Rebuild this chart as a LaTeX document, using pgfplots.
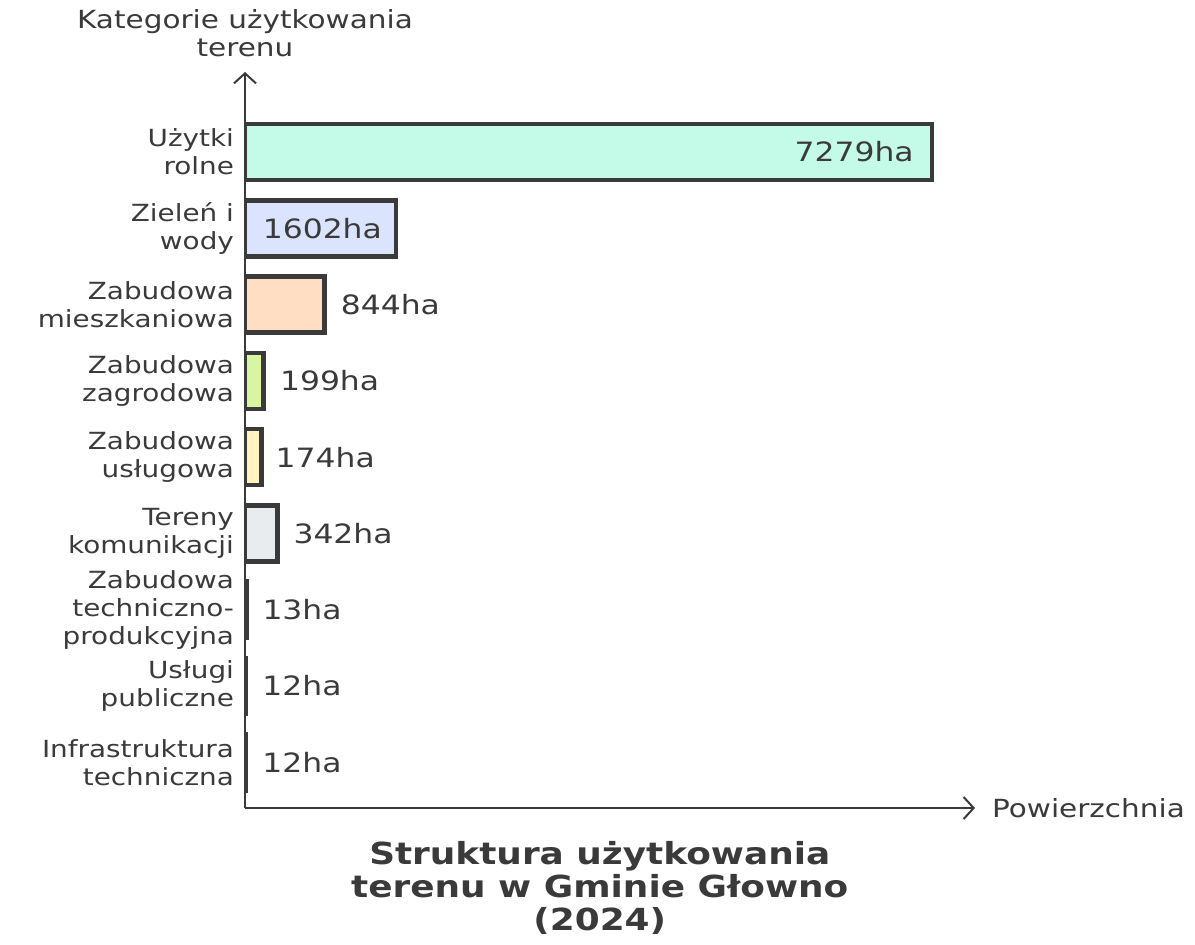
\documentclass[border=0pt]{standalone}
\usepackage{fontspec}
\setmainfont{DejaVu Sans}[FakeStretch=1.18]
\usepackage{pgfplots}
\pgfplotsset{compat=1.18}
\usetikzlibrary{arrows.meta}
\definecolor{ink}{RGB}{58,58,58}
\definecolor{cmint}{HTML}{C3FAE8}
\definecolor{cblue}{HTML}{DBE4FF}
\definecolor{cpeach}{HTML}{FFDEC4}
\definecolor{clime}{HTML}{D8F5A2}
\definecolor{cyel}{HTML}{FFF3BF}
\definecolor{cgray}{HTML}{E9ECEF}
\definecolor{cred}{HTML}{FFC9C9}
\definecolor{cpink}{HTML}{FCC2D7}
\definecolor{cviol}{HTML}{E5DBFF}
\begin{document}
\begin{tikzpicture}
\useasboundingbox (-122.5pt,-68pt) rectangle (475pt,404pt);
\begin{axis}[
  scale only axis, width=365pt, height=368pt,
  xmin=0, xmax=7735, ymin=-0.6, ymax=9.05,
  axis x line=bottom, axis y line=left,
  axis line style={draw=ink, line width=1pt, -{Straight Barb[length=5pt,width=11pt,line width=1pt]}},
  xtick=\empty,
  ytick={0,...,8},
  yticklabels={{Infrastruktura\\techniczna},{Usługi\\publiczne},{Zabudowa\\techniczno-\\produkcyjna},{Tereny\\komunikacji},{Zabudowa\\usługowa},{Zabudowa\\zagrodowa},{Zabudowa\\mieszkaniowa},{Zieleń i\\wody},{Użytki\\rolne}},
  yticklabel style={align=right, font=\fontsize{11.8}{14}\selectfont, text=ink, xshift=-2pt},
  major tick length=0pt,
  ylabel={Kategorie użytkowania\\terenu},
  ylabel style={rotate=-90, at={(axis description cs:0,1)}, anchor=south, align=center, yshift=4pt, font=\fontsize{12.5}{14}\selectfont, text=ink},
  xlabel={Powierzchnia},
  xlabel style={at={(axis description cs:1,0)}, anchor=west, xshift=5pt, font=\fontsize{12.5}{14}\selectfont, text=ink},
  title={Struktura użytkowania\\terenu w Gminie Głowno\\(2024)},
  title style={at={(axis description cs:0.486,0)}, anchor=north, yshift=-19pt, align=center, font=\bfseries\fontsize{15.2}{16.6}\selectfont, text=ink},
  xbar, bar width=28pt, bar shift=0pt,
  every node near coord/.append style={font=\fontsize{13.3}{14}\selectfont, text=ink, inner sep=0pt},
]
\addplot[fill=cmint, draw=ink, line width=2.3pt, nodes near coords={7279ha}, nodes near coords style={anchor=east, xshift=-8pt}] coordinates {(7279,8)};
\addplot[fill=cblue, draw=ink, line width=2.3pt, nodes near coords={1602ha}, nodes near coords style={anchor=east, xshift=-6pt}] coordinates {(1602,7)};
\addplot[fill=cpeach, draw=ink, line width=2.3pt, nodes near coords={844ha}, nodes near coords style={anchor=west, xshift=7pt}] coordinates {(844,6)};
\addplot[fill=clime, draw=ink, line width=2.3pt, nodes near coords={199ha}, nodes near coords style={anchor=west, xshift=7pt}] coordinates {(199,5)};
\addplot[fill=cyel, draw=ink, line width=2.3pt, nodes near coords={174ha}, nodes near coords style={anchor=west, xshift=6pt}] coordinates {(174,4)};
\addplot[fill=cgray, draw=ink, line width=2.3pt, nodes near coords={342ha}, nodes near coords style={anchor=west, xshift=7pt}] coordinates {(342,3)};
\addplot[fill=cred, draw=ink, line width=2.3pt, nodes near coords={13ha}, nodes near coords style={anchor=west, xshift=7pt}] coordinates {(13,2)};
\addplot[fill=cpink, draw=ink, line width=2.3pt, nodes near coords={12ha}, nodes near coords style={anchor=west, xshift=7pt}] coordinates {(12,1)};
\addplot[fill=cviol, draw=ink, line width=2.3pt, nodes near coords={12ha}, nodes near coords style={anchor=west, xshift=7pt}] coordinates {(12,0)};
\end{axis}
\end{tikzpicture}
\end{document}
